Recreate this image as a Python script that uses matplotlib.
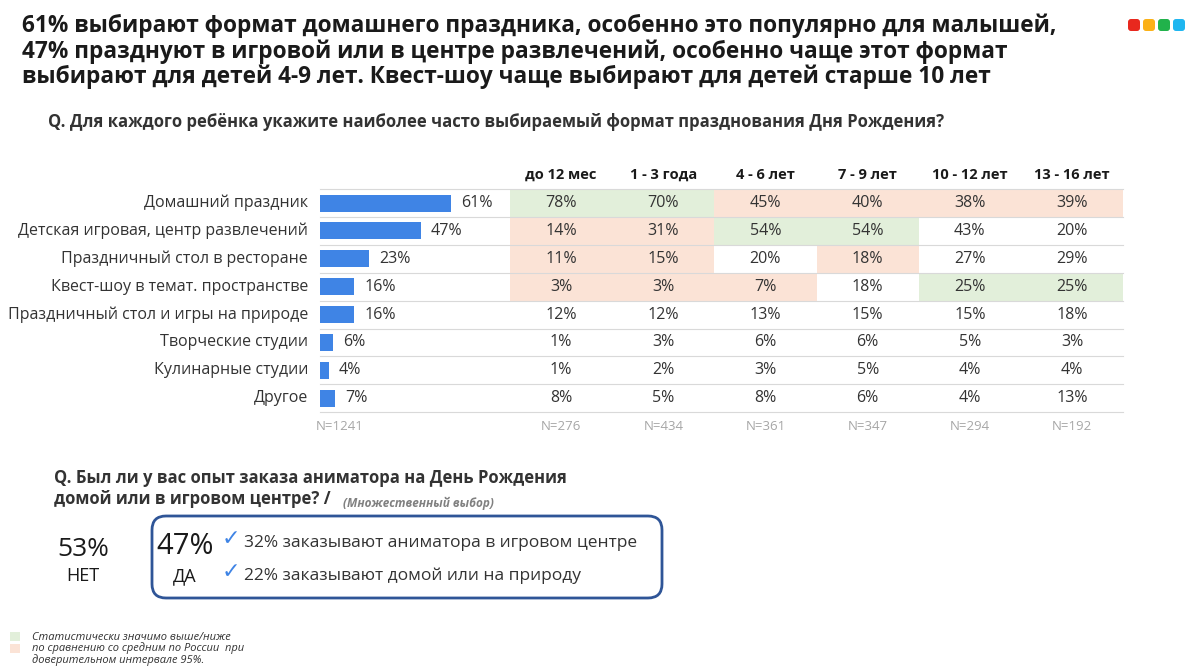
import matplotlib
matplotlib.use('Agg')
import matplotlib.pyplot as plt
import matplotlib.patches as mpatches

plt.rcParams['font.family'] = 'Open Sans'

categories = ['Домашний праздник', 'Детская игровая, центр развлечений',
              'Праздничный стол в ресторане', 'Квест-шоу в темат. пространстве',
              'Праздничный стол и игры на природе', 'Творческие студии',
              'Кулинарные студии', 'Другое']
total = [61, 47, 23, 16, 16, 6, 4, 7]
age_groups = ['до 12 мес', '1 - 3 года', '4 - 6 лет', '7 - 9 лет', '10 - 12 лет', '13 - 16 лет']
table = [
    [78, 70, 45, 40, 38, 39],
    [14, 31, 54, 54, 43, 20],
    [11, 15, 20, 18, 27, 29],
    [3, 3, 7, 18, 25, 25],
    [12, 12, 13, 15, 15, 18],
    [1, 3, 6, 6, 5, 3],
    [1, 2, 3, 5, 4, 4],
    [8, 5, 8, 6, 4, 13],
]
# g = significantly higher, r = lower, '' = none
signif = [
    ['g', 'g', 'r', 'r', 'r', 'r'],
    ['r', 'r', 'g', 'g', '', ''],
    ['r', 'r', '', 'r', '', ''],
    ['r', 'r', 'r', '', 'g', 'g'],
] + [[''] * 6] * 4
n_total = 'N=1241'
n_groups = ['N=276', 'N=434', 'N=361', 'N=347', 'N=294', 'N=192']

GREEN = '#e2efda'
PINK = '#fbe3d6'
BLUE = '#3f84e5'
DARK = '#1a1a1a'

fig = plt.figure(figsize=(11.96, 6.72), dpi=100)
ax = fig.add_axes([0, 0, 1, 1])
ax.set_xlim(0, 1196)
ax.set_ylim(672, 0)
ax.axis('off')

title = ('61% выбирают формат домашнего праздника, особенно это популярно для малышей,\n'
         '47% празднуют в игровой или в центре развлечений, особенно чаще этот формат\n'
         'выбирают для детей 4-9 лет. Квест-шоу чаще выбирают для детей старше 10 лет')
ax.text(22, 14, title, fontsize=16.3, fontweight='bold', va='top', ha='left',
        color=DARK, linespacing=1.05)
ax.text(48, 122, 'Q. Для каждого ребёнка укажите наиболее часто выбираемый формат празднования Дня Рождения?',
        fontsize=12, fontweight='bold', va='center', color='#333333')

# logo
for i, c in enumerate(['#e8281e', '#fbb117', '#21b24b', '#1fb6f0']):
    ax.add_patch(mpatches.FancyBboxPatch((1128 + i * 15, 19), 12, 12,
                 boxstyle='round,pad=0,rounding_size=3', fc=c, ec='none'))

row_y0, row_h = 203, 27.9
col_x0, col_w = 510, 102.2
bar_x0, px_per = 320, 2.15

for j, g in enumerate(age_groups):
    ax.text(col_x0 + col_w * (j + 0.5), 175, g, ha='center', va='center',
            fontsize=10.5, fontweight='bold', color=DARK)

ys = [row_y0 + i * row_h for i in range(len(categories))]
ax.barh(ys, [v * px_per for v in total], left=bar_x0, height=17, color=BLUE)
for i, (cat, v) in enumerate(zip(categories, total)):
    y = ys[i]
    ax.text(308, y, cat, ha='right', va='center', fontsize=11.5, color='#333333')
    ax.text(bar_x0 + v * px_per + 10, y, f'{v}%', ha='left', va='center',
            fontsize=11.5, color='#333333')
    for j, val in enumerate(table[i]):
        x = col_x0 + col_w * j
        s = signif[i][j]
        if s:
            ax.add_patch(mpatches.Rectangle((x, y - row_h / 2), col_w, row_h,
                         fc=GREEN if s == 'g' else PINK, ec='none', zorder=0))
        ax.text(x + col_w / 2, y, f'{val}%', ha='center', va='center',
                fontsize=11.5, color='#333333')
    ax.plot([bar_x0, col_x0 + 6 * col_w], [y + row_h / 2] * 2, color='#d9d9d9', lw=0.8)
ax.plot([bar_x0, col_x0 + 6 * col_w], [ys[0] - row_h / 2] * 2, color='#d9d9d9', lw=0.8)

ax.text(340, 426, n_total, ha='center', va='center', fontsize=9.5, color='#a6a6a6')
for j, n in enumerate(n_groups):
    ax.text(col_x0 + col_w * (j + 0.5), 426, n, ha='center', va='center',
            fontsize=9.5, color='#a6a6a6')

# second question
ax.text(54, 478, 'Q. Был ли у вас опыт заказа аниматора на День Рождения',
        fontsize=12, fontweight='bold', va='center', color='#333333')
ax.text(54, 499, 'домой или в игровом центре? /',
        fontsize=12, fontweight='bold', va='center', color='#333333')
ax.text(343, 503, '(Множественный выбор)', fontsize=8.5, style='italic', fontweight='bold',
        va='center', color='#808080')

ax.add_patch(mpatches.FancyBboxPatch((152, 516), 510, 82,
             boxstyle='round,pad=0,rounding_size=14', fc='white', ec='#2f5597', lw=2))
ax.text(83, 549, '53%', ha='center', va='center', fontsize=19, color=DARK)
ax.text(83, 576, 'НЕТ', ha='center', va='center', fontsize=13, color=DARK)
ax.text(185, 546, '47%', ha='center', va='center', fontsize=21, color=DARK)
ax.text(185, 576, 'ДА', ha='center', va='center', fontsize=13, color=DARK)
for y, t in [(543, '32% заказывают аниматора в игровом центре'),
             (576, '22% заказывают домой или на природу')]:
    ax.text(222, y - 4, '✓', fontfamily='DejaVu Sans', fontsize=16, color='#3f84e5',
            va='center', fontweight='bold')
    ax.text(244, y, t, fontsize=12.5, va='center', color='#333333')

# significance legend
ax.add_patch(mpatches.Rectangle((10, 632), 10, 9, fc=GREEN, ec='none'))
ax.add_patch(mpatches.Rectangle((10, 644), 10, 9, fc=PINK, ec='none'))
ax.text(32, 649, 'Статистически значимо выше/ниже\nпо сравнению со средним по России  при\nдоверительном интервале 95%.',
        fontsize=8, style='italic', va='center', color='#333333', linespacing=0.95)

fig.savefig('out.png', dpi=100)
